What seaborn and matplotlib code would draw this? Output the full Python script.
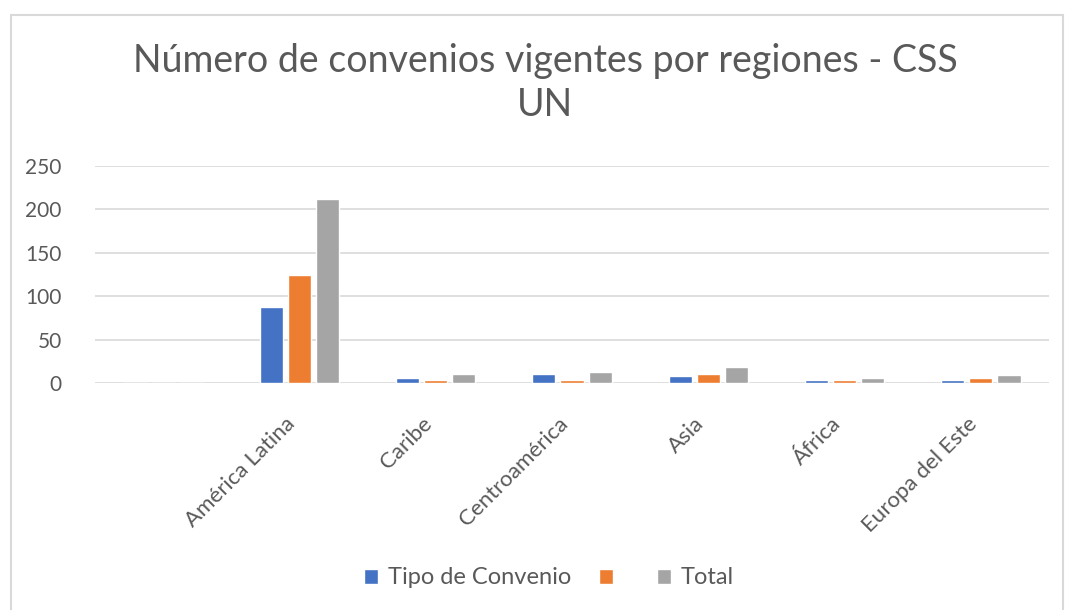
import pandas as pd
import seaborn as sns
import matplotlib.pyplot as plt
from matplotlib.patches import Rectangle

# data
regiones = ['', 'América Latina', 'Caribe', 'Centroamérica', 'Asia', 'África', 'Europa del Este']
tipo_convenio = [0, 88, 6, 10, 8, 3, 3]
sin_nombre = [0, 124, 4, 3, 10, 3, 6]
total = [0, 212, 10, 13, 18, 6, 9]
series = ['Tipo de Convenio', ' ', 'Total']
colores = ['#4472C4', '#ED7D31', '#A5A5A5']
yticks = [0, 50, 100, 150, 200, 250]

df = pd.DataFrame({'region': regiones * 3,
                   'serie': [s for s in series for _ in regiones],
                   'valor': tipo_convenio + sin_nombre + total})

sns.set_theme(style='white')
plt.rcParams['font.family'] = ['Lato', 'DejaVu Sans']

fig = plt.figure(figsize=(10.66, 6.1), dpi=100)
ax = fig.add_axes([95/1066, 1 - 383/610, 954/1066, 217/610])

sns.barplot(data=df, x='region', y='valor', hue='serie', order=regiones,
            hue_order=series, palette=colores, saturation=1, width=0.62, gap=0.18,
            ax=ax, legend=True)

ax.set_ylim(0, 250)
ax.set_xlim(-0.5, len(regiones) - 0.5)
ax.set_yticks(yticks)
ax.set_yticklabels([str(v) for v in yticks], fontsize=15, color='#595959')
ax.yaxis.grid(True, color='#d9d9d9', linewidth=1.2)
ax.set_axisbelow(True)
ax.tick_params(axis='y', length=0, pad=24)
ax.tick_params(axis='x', length=0, pad=22)
plt.setp(ax.get_xticklabels(), rotation=45, ha='right', fontsize=16, color='#595959')
ax.set_xlabel('')
ax.set_ylabel('')
for s in ax.spines.values():
    s.set_visible(False)

handles, labels = ax.get_legend_handles_labels()
ax.get_legend().remove()
fig.legend(handles, labels, loc='center', bbox_to_anchor=(549/1066, 1 - 578/610),
           ncol=3, frameon=False, fontsize=17, handlelength=0.6, handleheight=0.6,
           handletextpad=0.4, columnspacing=1.2, labelcolor='#595959')

fig.text(545/1066, 1 - 83/610, 'Número de convenios vigentes por regiones - CSS\nUN',
         ha='center', va='center', fontsize=27, color='#595959', linespacing=1.25)

fig.patches.append(Rectangle((11/1066, -0.01), 1052/1066, 1 - 15/610 + 0.01,
                             transform=fig.transFigure, fill=False,
                             edgecolor='#d9d9d9', linewidth=1.5))

fig.savefig('out.png', dpi=100)
